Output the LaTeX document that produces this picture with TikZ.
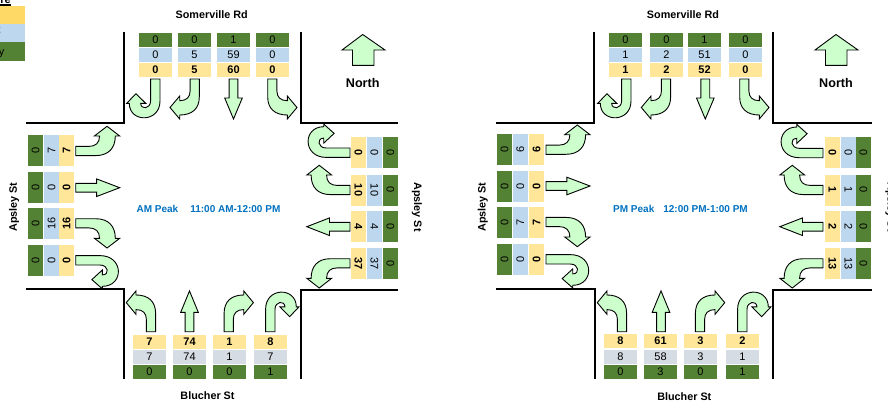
\documentclass[tikz,border=0pt]{standalone}
\usepackage{fontspec}
\setmainfont{Liberation Sans}
\definecolor{vehgreen}{HTML}{548235}
\definecolor{carblue}{HTML}{BDD7EE}
\definecolor{totyellow}{HTML}{FFE699}
\definecolor{keyyellow}{HTML}{FFD966}
\definecolor{cargrey}{HTML}{D6DCE4}
\definecolor{flowgreen}{HTML}{CCFFCC}
\definecolor{peakblue}{HTML}{0070C0}
\newcommand{\uturnarrow}[1]{\draw[flow,#1] (-4.7,0) -- (-4.7,22) .. controls (-4.7,30) and (-14.6,31) .. (-14.6,24.3) -- (-9.6,24.3) -- (-19.3,14.7) -- (-28.6,24.3) -- (-26,24.3) .. controls (-26,44) and (4.7,44) .. (4.7,22) -- (4.7,0) -- cycle;}
\newcommand{\turnarrow}[1]{\draw[flow,#1] (-4.6,0) -- (-4.6,12) .. controls (-4.6,18) and (-8,21.7) .. (-15,21.7) -- (-15,17) -- (-24.7,28.5) -- (-15,40) -- (-15,36) .. controls (-3,36) and (4.6,30) .. (4.6,18) -- (4.6,0) -- cycle;}
\newcommand{\aheadarrow}[1]{\draw[flow,#1] (-4.4,0) -- (-4.4,19) -- (-8.8,19) -- (0,40) -- (8.8,19) -- (4.4,19) -- (4.4,0) -- cycle;}
\newcommand{\arrowset}[6]{
  \uturnarrow{shift={(#3)},rotate=#1,yscale=#2}
  \turnarrow{shift={(#4)},rotate=#1,yscale=#2}
  \aheadarrow{shift={(#5)},rotate=#1,yscale=#2}
  \turnarrow{shift={(#6)},rotate=#1,yscale=#2,xscale=-1}
}
\begin{document}
\begin{tikzpicture}[x=1pt, y=-1pt,
    flow/.style={draw, fill=flowgreen, line width=0.9pt, line join=miter},
    wall/.style={line width=2pt, line cap=rect},
    road/.style={font=\fontsize{10.8}{12}\selectfont\bfseries},
    peak/.style={text=peakblue, font=\fontsize{10}{12}\selectfont\bfseries},
    cell/.style={inner sep=0pt, font=\fontsize{11}{12}\selectfont},
    hcell/.style={cell, minimum width=33pt, minimum height=14pt},
    wcell/.style={cell, rotate=90, minimum width=31pt, minimum height=15pt},
    ecell/.style={cell, rotate=-90, minimum width=31pt, minimum height=15pt},
    tot/.style={fill=totyellow, font=\fontsize{11}{12}\selectfont\bfseries},
    keybox/.style={inner sep=0pt, minimum width=25pt, anchor=north west}]
  \useasboundingbox (0,0) rectangle (888,405);

  % key, cut by the page edge
  \node[keybox, fill=keyyellow, minimum height=18pt] (keytot) at (0,6) {};
  \node[keybox, fill=carblue, minimum height=18pt] (keycar) at (0,24) {};
  \node[keybox, fill=vehgreen, minimum height=19pt] (keyveh) at (0,42) {};
  \node[keybox, fill=black, minimum width=11pt, minimum height=2pt] (keyline) at (0,4) {};
  \node[anchor=base east, inner sep=0pt, font=\fontsize{11}{12}\selectfont\bfseries] (keyhead) at (11,3.5) {re};
  \node[anchor=base east, inner sep=0pt, text=black!35, font=\fontsize{11}{12}\selectfont] (keyk) at (1.5,33) {k};
  \node[anchor=base east, inner sep=0pt, font=\fontsize{11}{12}\selectfont] (keyy) at (4.5,55) {y};

  % AM walls
  \draw[wall] (27,123.3) -- (123.5,123.3) -- (123.5,33);
  \draw[wall] (301,33) -- (301,123.3) -- (397,123.3);
  \draw[wall] (27,288.8) -- (124,288.8) -- (124,378);
  \draw[wall] (397,290) -- (301,290) -- (301,378);
  % PM walls
  \draw[wall] (497,123.3) -- (593.7,123.3) -- (593.7,33);
  \draw[wall] (773.3,33) -- (773.3,123.3) -- (870.5,123.3);
  \draw[wall] (496.5,288.8) -- (594.5,288.8) -- (594.5,378);
  \draw[wall] (870.5,290) -- (773.3,290) -- (773.3,378);

  % road names
  \node[road] (amnorth) at (211.7,15) {Somerville Rd};
  \node[road] (amsouth) at (207.5,396) {Blucher St};
  \node[road, rotate=90] (amwest) at (14,207) {Apsley St};
  \node[road, rotate=-90] (ameast) at (417,207) {Apsley St};
  \node[road] (pmnorth) at (683,15) {Somerville Rd};
  \node[road] (pmsouth) at (684.3,397) {Blucher St};
  \node[road, rotate=90] (pmwest) at (482.7,207) {Apsley St};
  \node[road, rotate=-90] (pmeast) at (890.5,207) {Apsley St};

  % north marks
  \draw[flow] (352.5,65.3) -- (352.5,50) -- (342,50) -- (362.7,34.5) -- (385,50) -- (374,50) -- (374,65.3) -- cycle;
  \draw[flow] (825.5,65.3) -- (825.5,50) -- (815,50) -- (836,34.5) -- (858,50) -- (847,50) -- (847,65.3) -- cycle;
  \node[font=\fontsize{12.6}{14}\selectfont\bfseries] (amnorthmark) at (362.7,83) {North};
  \node[font=\fontsize{12.6}{14}\selectfont\bfseries] (pmnorthmark) at (836,83) {North};

  % peak labels
  \node[peak] (ampeak) at (208.5,209) {AM Peak\hspace{12pt}11:00 AM-12:00 PM};
  \node[peak] (pmpeak) at (680.5,209) {PM Peak\hspace{9pt}12:00 PM-1:00 PM};

  % AM counts
  \foreach \x/\g/\b/\t in {155.5/0/0/0, 194.5/0/5/5, 233.5/1/59/60, 272.5/0/0/0} {
    \node[hcell, fill=vehgreen] (amn\x g) at (\x,40) {\g};
    \node[hcell, fill=carblue] (amn\x b) at (\x,55) {\b};
    \node[hcell, tot] (amn\x t) at (\x,70) {\t};
  }
  \foreach \x/\t/\b/\g in {149.5/7/7/0, 189.5/74/74/0, 229.5/1/1/0, 270.5/8/7/1} {
    \node[hcell, tot] (ams\x t) at (\x,342) {\t};
    \node[hcell, fill=cargrey] (ams\x b) at (\x,357) {\b};
    \node[hcell, fill=vehgreen] (ams\x g) at (\x,372) {\g};
  }
  \foreach \y/\b/\t in {150.5/7/7, 187.5/0/0, 223.5/16/16, 260.5/0/0} {
    \node[wcell, fill=vehgreen] (amw\y g) at (35.5,\y) {0};
    \node[wcell, fill=carblue] (amw\y b) at (51.5,\y) {\b};
    \node[wcell, tot] (amw\y t) at (66.7,\y) {\t};
  }
  \foreach \y/\b/\t in {152.5/0/0, 190/10/10, 226.5/4/4, 263.5/37/37} {
    \node[ecell, tot] (ame\y t) at (358.5,\y) {\t};
    \node[ecell, fill=carblue] (ame\y b) at (374.5,\y) {\b};
    \node[ecell, fill=vehgreen] (ame\y g) at (390.5,\y) {0};
  }

  % PM counts
  \foreach \x/\g/\b/\t in {625.5/0/1/1, 666.5/0/2/2, 704.5/1/51/52, 745.5/0/0/0} {
    \node[hcell, fill=vehgreen] (pmn\x g) at (\x,40) {\g};
    \node[hcell, fill=carblue] (pmn\x b) at (\x,55) {\b};
    \node[hcell, tot] (pmn\x t) at (\x,70) {\t};
  }
  \foreach \x/\t/\b/\g in {620.5/8/8/0, 660.5/61/58/3, 700.5/3/3/0, 742.5/2/1/1} {
    \node[hcell, tot] (pms\x t) at (\x,341) {\t};
    \node[hcell, fill=cargrey] (pms\x b) at (\x,357) {\b};
    \node[hcell, fill=vehgreen] (pms\x g) at (\x,372) {\g};
  }
  \foreach \y/\b/\t in {149/6/6, 186/0/0, 222.5/7/7, 259.5/0/0} {
    \node[wcell, fill=vehgreen] (pmw\y g) at (504.5,\y) {0};
    \node[wcell, fill=carblue] (pmw\y b) at (520.3,\y) {\b};
    \node[wcell, tot] (pmw\y t) at (536.5,\y) {\t};
  }
  \foreach \y/\b/\t in {152.5/0/0, 190/1/1, 226.5/2/2, 263.5/13/13} {
    \node[ecell, tot] (pme\y t) at (832.5,\y) {\t};
    \node[ecell, fill=carblue] (pme\y b) at (848.5,\y) {\b};
    \node[ecell, fill=vehgreen] (pme\y g) at (863.5,\y) {0};
  }

  % AM arrows
  \arrowset{0}{1}{155.3,79}{194.7,79}{233.5,79}{272.3,79}
  \arrowset{180}{1.02}{270.3,331.7}{228.7,331.7}{189.5,331.7}{151,331.7}
  \arrowset{90}{1.1}{75.7,260.3}{75.7,223.3}{75.7,187.7}{75.7,151}
  \arrowset{-90}{1.08}{350,152.7}{350,190}{350,226.7}{350,263.3}
  % PM arrows
  \arrowset{0}{1}{626.3,79}{666,79}{705.3,79}{744.3,79}
  \arrowset{180}{1.02}{742.3,331.7}{700,331.7}{661,331.7}{622,331.7}
  \arrowset{90}{1.1}{546,259.3}{546,222}{546,186}{546,149.7}
  \arrowset{-90}{1.08}{823,153}{823,190}{823,226.7}{823,263.3}
\end{tikzpicture}
\end{document}
